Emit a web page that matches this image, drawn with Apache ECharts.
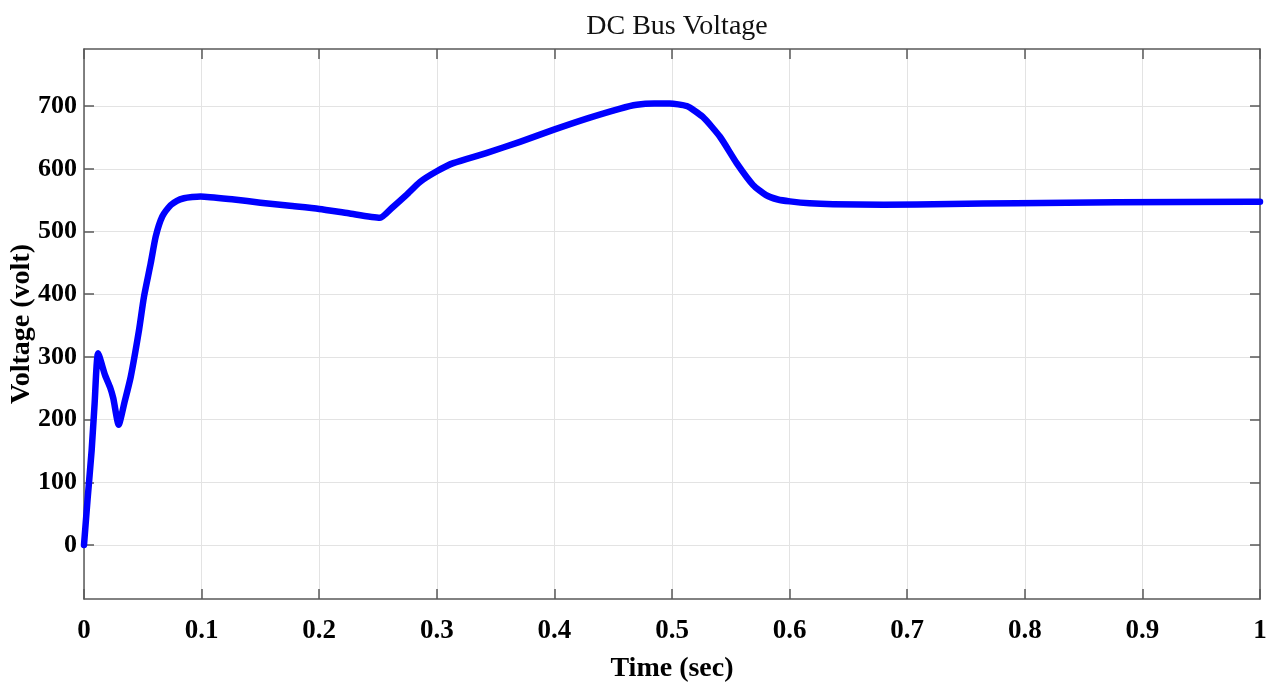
<!DOCTYPE html>
<html>
<head>
<meta charset="utf-8">
<title>DC Bus Voltage</title>
<script src="https://cdn.jsdelivr.net/npm/echarts@6/dist/echarts.min.js"></script>
<style>
  html, body { margin: 0; padding: 0; background: #fff; }
  #chart { width: 1280px; height: 693px; }
</style>
</head>
<body>
<div id="chart"></div>
<script>
// Simulated DC bus voltage (V) against time (s)
const timeSec = [0, 0.003, 0.0065, 0.009, 0.012, 0.0179, 0.0221, 0.0249, 0.0295, 0.0345, 0.0397,
  0.0468, 0.051, 0.0567, 0.061, 0.0666, 0.0737, 0.079, 0.085, 0.092, 0.099, 0.1276, 0.15, 0.175,
  0.2, 0.225, 0.2517, 0.262, 0.274, 0.2857, 0.3, 0.314, 0.342, 0.3707, 0.399, 0.4275, 0.456,
  0.47, 0.485, 0.498, 0.5125, 0.526, 0.5408, 0.555, 0.569, 0.58, 0.59, 0.6003, 0.617, 0.637,
  0.68, 0.7364, 0.793, 0.878, 0.9915, 1.0];
const busVoltage = [0, 72, 151, 225, 306, 271, 252, 234, 192, 228, 268,
  343, 396, 449, 492, 524, 542, 549, 553, 555, 556, 551, 546, 541,
  536, 529, 522, 538, 558, 579, 596, 609, 625, 643, 662, 680, 696,
  702, 704, 704, 700, 683, 651, 609, 574, 558, 551, 548, 545, 543.5,
  542.5, 544, 545, 546.5, 547.5, 547.5];
const voltTicks = [0, 100, 200, 300, 400, 500, 600, 700];

const FONT = '"Liberation Serif", "Times New Roman", serif';
const points = timeSec.map((t, i) => [t, busVoltage[i]]);

const frame = { show: true, onZero: false, lineStyle: { color: '#5a5a5a', width: 1.5 } };
const inTicks = { show: true, inside: true, length: 10, lineStyle: { color: '#5a5a5a', width: 1.5 } };
const grid = { show: true, lineStyle: { color: '#e3e3e3', width: 1 } };

const chart = echarts.init(document.getElementById('chart'), null, { renderer: 'canvas' });
chart.setOption({
  animation: false,
  backgroundColor: '#ffffff',
  title: {
    text: 'DC Bus Voltage',
    left: 672, textAlign: 'center', top: 8,
    textStyle: { fontFamily: FONT, fontSize: 28, fontWeight: 'normal', color: '#111' }
  },
  grid: { left: 84, right: 20, top: 49, bottom: 94, outerBoundsMode: 'none', containLabel: false },
  xAxis: [{
    type: 'value', min: 0, max: 1, interval: 0.1,
    name: 'Time (sec)', nameLocation: 'middle', nameGap: 56, nameMoveOverlap: false,
    nameTextStyle: { fontFamily: FONT, fontSize: 28, fontWeight: 'bold', color: '#000' },
    axisLine: frame, axisTick: inTicks, splitLine: grid,
    axisLabel: { margin: 19, fontFamily: FONT, fontSize: 27, fontWeight: 'bold', color: '#000',
      formatter: v => String(+v.toFixed(1)) }
  }, {
    type: 'value', position: 'top', min: 0, max: 1, interval: 0.1,
    axisLine: frame, axisTick: inTicks, splitLine: { show: false }, axisLabel: { show: false }
  }],
  yAxis: [{
    type: 'value', min: -86, max: 791,
    name: 'Voltage (volt)', nameLocation: 'middle', nameGap: 48, nameMoveOverlap: false,
    nameTextStyle: { fontFamily: FONT, fontSize: 28, fontWeight: 'bold', color: '#000' },
    axisLine: frame,
    axisTick: Object.assign({ customValues: voltTicks }, inTicks),
    splitLine: grid,
    axisLabel: { customValues: voltTicks, margin: 7, fontFamily: FONT, fontSize: 26, fontWeight: 'bold', color: '#000' }
  }, {
    type: 'value', position: 'right', min: -86, max: 791,
    axisLine: frame,
    axisTick: Object.assign({ customValues: voltTicks }, inTicks),
    splitLine: { show: false }, axisLabel: { show: false }
  }],
  series: [{
    type: 'line',
    data: points,
    xAxisIndex: 0, yAxisIndex: 0,
    showSymbol: false,
    smooth: 0.2,
    lineStyle: { color: '#0000ff', width: 6.5, join: 'round', cap: 'round' }
  }]
});
</script>
</body>
</html>
